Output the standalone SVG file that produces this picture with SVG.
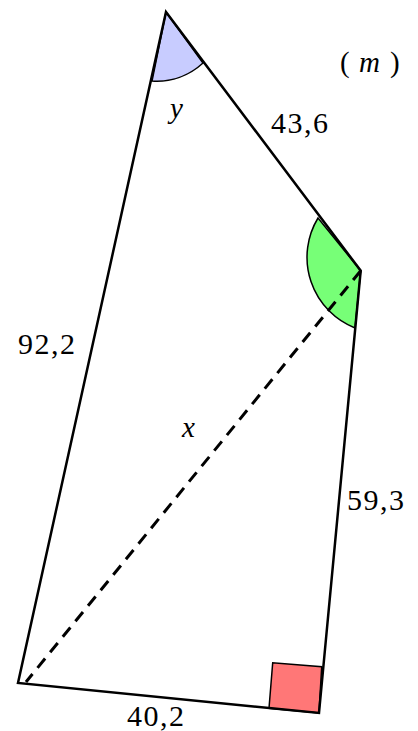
<svg xmlns="http://www.w3.org/2000/svg" width="418" height="731" viewBox="0 0 418 731">
<style>
.edge{fill:none;stroke:#000;stroke-width:2.5;stroke-linejoin:miter}
.dash{fill:none;stroke:#000;stroke-width:3;stroke-dasharray:12 8}
.ang{stroke:#000;stroke-width:1.5}
.num{font-family:"Liberation Serif",serif;font-size:30px;letter-spacing:1.5px;fill:#000}
.var{font-family:"Liberation Serif",serif;font-style:italic;font-size:29px;fill:#000}
</style>
<g id="angle-y"><path class="ang" fill="#c8ccff" d="M166 12 L203 63 A68 68 0 0 1 152 81 Z"/></g>
<g id="angle-B"><path class="ang" fill="#77ff77" d="M360.7 270.7 L318 218 A76 76 0 0 0 355 328 Z"/></g>
<g id="right-angle"><path class="ang" stroke-width="2" fill="#ff7777" d="M319 713 L321.7 666.7 L272.7 662.7 L269 708.3 Z"/></g>
<g id="connectors">
<path class="edge" d="M166 12 L360.7 270.7 L319 713 L18 683 Z"/>
<path class="dash" d="M360.7 270.7 L26 682"/>
</g>
<g id="labels">
<text class="num" x="271" y="133">43,6</text>
<text class="num" x="18" y="354">92,2</text>
<text class="num" x="347" y="510">59,3</text>
<text class="num" x="127" y="726">40,2</text>
<text class="var" x="170" y="118">y</text>
<text class="var" x="182" y="437">x</text>
<text class="var" y="72"><tspan x="340" font-style="normal">(</tspan><tspan x="359">m</tspan><tspan x="390" font-style="normal">)</tspan></text>
</g>
</svg>
